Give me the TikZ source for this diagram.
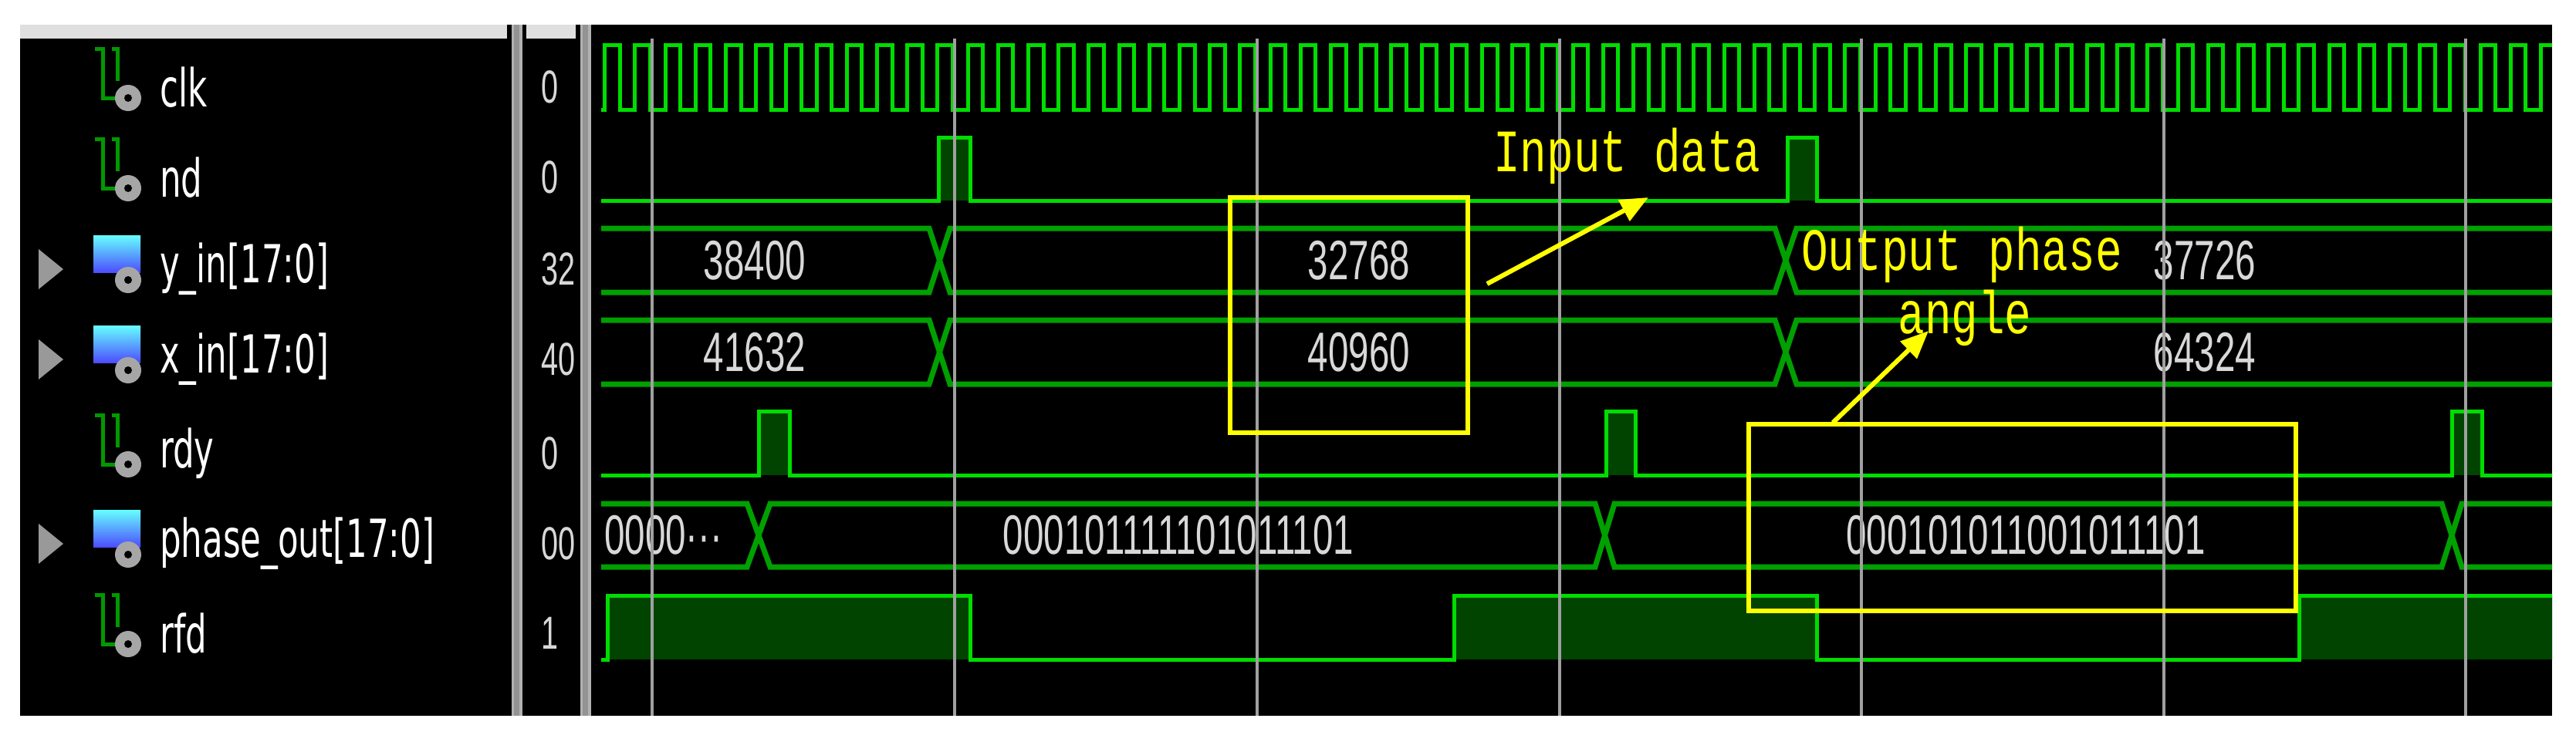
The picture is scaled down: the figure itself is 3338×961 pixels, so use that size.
\documentclass[tikz,border=0pt]{standalone}
\usepackage{fontspec}
\usetikzlibrary{arrows.meta}
\newfontfamily\namef{DejaVu Sans}[FakeStretch=0.64]
\newfontfamily\valf{Liberation Sans}[FakeStretch=0.66]
\newfontfamily\annof{Liberation Mono}[FakeStretch=0.74]
\definecolor{wg}{HTML}{00DD00}
\definecolor{dg}{HTML}{004400}
\definecolor{bg}{HTML}{00A000}
\definecolor{vt}{HTML}{D8D8D8}
\definecolor{yl}{HTML}{FFFF00}
\definecolor{cur}{HTML}{A0A0A0}
\begin{document}
\begin{tikzpicture}[x=1pt,y=-1pt,
  wave/.style={draw=wg,line width=5pt,line join=miter},
  bus/.style={draw=bg,line width=7pt},
  hi/.style={fill=dg},
  nm/.style={anchor=west,text=white,font=\namef\fontsize{68}{72}\selectfont,inner sep=0},
  vc/.style={anchor=west,text=vt,font=\valf\fontsize{60}{64}\selectfont,inner sep=0},
  bv/.style={text=vt,font=\valf\fontsize{72}{76}\selectfont,inner sep=0},
  hl/.style={draw=yl,line width=6pt},
  an/.style={text=yl,font=\annof\fontsize{78}{82}\selectfont,inner sep=0},
  arr/.style={draw=yl,line width=6pt,-{Triangle[length=36pt,width=30pt]}},
  bitic/.style={draw=green!60!black,line width=5pt},
  ]
\useasboundingbox (0,0) rectangle (3338,961);
\fill[white] (0,0) rectangle (3338,961);
% panels
\fill[black] (26,32) rectangle (3307,928);
\fill[gray!25] (26,32) rectangle (657,50);
\fill[gray!25] (682,32) rectangle (746,50);
\fill[gray!60] (663,32) rectangle (677,928);
\fill[gray!85] (666,32) rectangle (673,928);
\fill[gray!60] (752,32) rectangle (766,928);
\fill[gray!85] (755,32) rectangle (762,928);
% names
\foreach \y/\t/\b in {113/clk/0,230/nd/0,349/y\_in[17:0]/1,466/x\_in[17:0]/1,588/rdy/0,705/phase\_out[17:0]/1,821/rfd/0}{
  \node[nm] (n\y) at (207,\y) {\t};
  \ifnum\b=1
    \fill[gray!80] (50,\y-26) -- (82,\y) -- (50,\y+26) -- cycle;
    \shade[top color=cyan!60,bottom color=blue!70] (121,\y-44) rectangle (182,\y+4);
  \else
    \draw[bitic] (123,\y-50) -- (133,\y-50) -- (133,\y+14) -- (150,\y+14);
    \draw[bitic] (145,\y-50) -- (152,\y-50) -- (152,\y-8);
  \fi
  \fill[gray!70] (166,\y+14) circle (17pt);
  \fill[black] (166,\y+14) circle (5pt);
}
% value column
\begin{scope}
\clip (677,50) rectangle (746,928);
\foreach \y/\t in {113/0,230/0,349/32,466/40,588/0,705/00,821/1}
  \node[vc] (v\y) at (701,\y) {\t};
\end{scope}
% waves
\begin{scope}
\clip (766,50) rectangle (3307,928);
% clk
\draw[wave] (779,142) \foreach \k in {0,...,64} { -- ({783.6+39.2*\k},142) -- ({783.6+39.2*\k},58) -- ({803.2+39.2*\k},58) -- ({803.2+39.2*\k},142) };
% nd
\fill[hi] (1216,178) rectangle (1257,260);
\fill[hi] (2316,178) rectangle (2354,260);
\draw[wave] (779,260) -- (1216,260) -- (1216,178) -- (1257,178) -- (1257,260) -- (2316,260) -- (2316,178) -- (2354,178) -- (2354,260) -- (3320,260);
% buses y_in, x_in
\foreach \t/\b in {296/379,415/498}{
  \draw[bus] (779,\t) -- (1204,\t) -- (1231,\b) -- (2300,\b) -- (2328,\t) -- (3320,\t);
  \draw[bus] (779,\b) -- (1204,\b) -- (1231,\t) -- (2300,\t) -- (2328,\b) -- (3320,\b);
}
\node[bv] (y1) at (978,338) {38400};
\node[bv] (y2) at (1761,338) {32768};
\node[bv] (y3) at (2857,338) {37726};
\node[bv] (x1) at (978,457) {41632};
\node[bv] (x2) at (1761,457) {40960};
\node[bv] (x3) at (2857,457) {64324};
% rdy
\foreach \a/\c in {983/1023,2081/2119,3177/3216}
  \fill[hi] (\a,533) rectangle (\c,616);
\draw[wave] (779,616) -- (983,616) -- (983,533) -- (1023,533) -- (1023,616) -- (2081,616) -- (2081,533) -- (2119,533) -- (2119,616) -- (3177,616) -- (3177,533) -- (3216,533) -- (3216,616) -- (3320,616);
% phase_out
\draw[bus] (779,653) -- (968,653) -- (998,735) -- (2067,735) -- (2092,653) -- (3164,653) -- (3190,735) -- (3320,735);
\draw[bus] (779,735) -- (968,735) -- (998,653) -- (2067,653) -- (2092,735) -- (3164,735) -- (3190,653) -- (3320,653);
\node[bv,anchor=west] (p1) at (783,694) {0000\textperiodcentered\textperiodcentered\textperiodcentered};
\node[bv] (p2) at (1527,694) {000101111101011101};
\node[bv] (p3) at (2625,694) {000101011001011101};
% rfd
\fill[hi] (787,772) rectangle (1257,855);
\fill[hi] (1884,772) rectangle (2354,855);
\fill[hi] (2979,772) rectangle (3320,855);
\draw[wave] (779,855) -- (787,855) -- (787,772) -- (1257,772) -- (1257,855) -- (1884,855) -- (1884,772) -- (2354,772) -- (2354,855) -- (2979,855) -- (2979,772) -- (3320,772);
\end{scope}
% cursors
\foreach \x in {845,1237,1629,2021,2412,2804,3195}
  \draw[cur,line width=4pt] (\x,50) -- (\x,928);
% annotations
\draw[hl] (1594,256) rectangle (1902,561);
\draw[hl] (2266,550) rectangle (2975,792);
\coordinate (b1) at (1927,368);
\coordinate (b2) at (2375,548);
\node[an,anchor=west] (t1) at (1935,202) {Input data};
\node[an,anchor=west] (t2) at (2334,330) {Output phase};
\node[an] (t3) at (2546,412) {angle};
\draw[arr] (b1) -- (2136,256);
\draw[arr] (b2) -- (2499,429);
\end{tikzpicture}
\end{document}
